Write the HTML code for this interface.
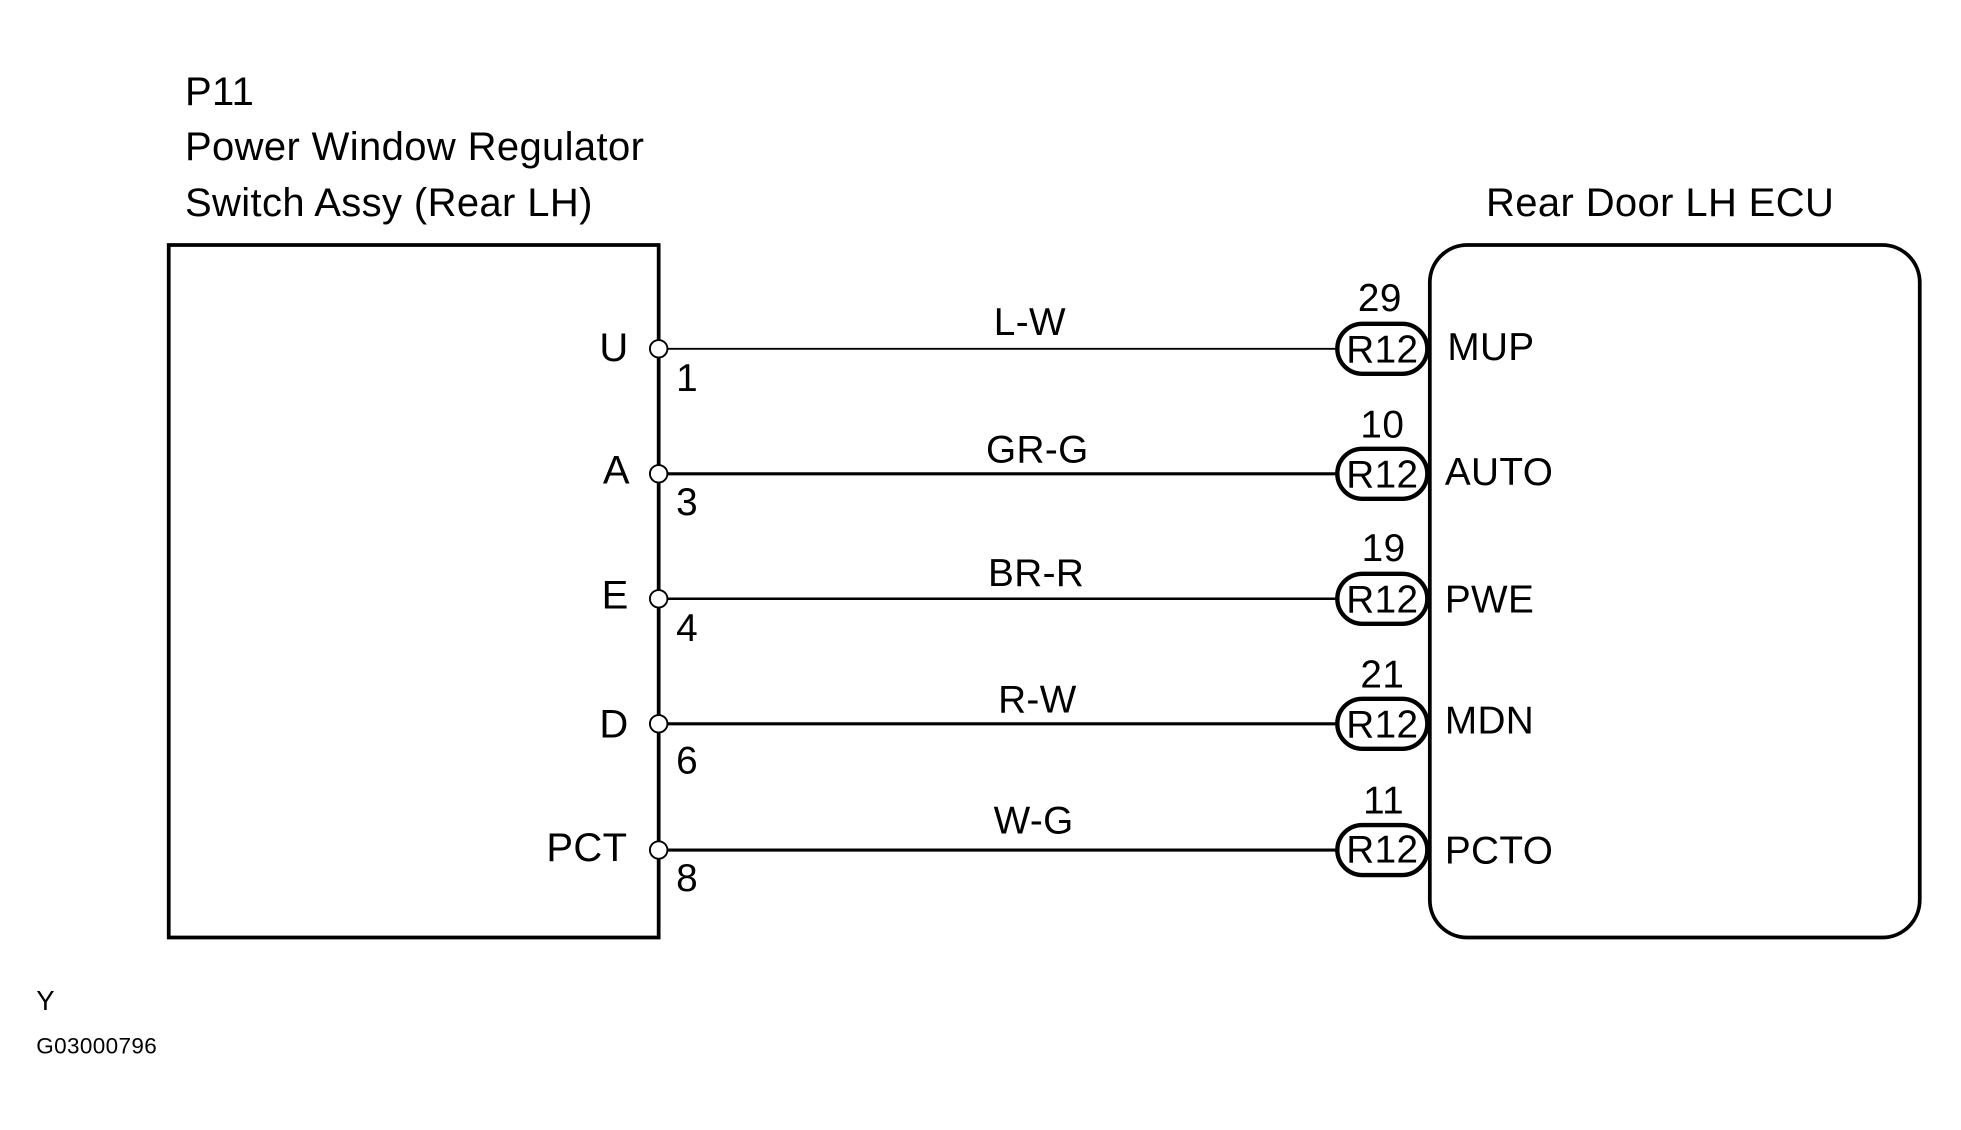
<!DOCTYPE html>
<html><head><meta charset="utf-8"><style>
html,body{margin:0;padding:0;background:#fff;}
svg{display:block;}
text{font-family:"Liberation Sans",Arial,sans-serif;fill:#000;letter-spacing:0.3px;}
</style></head><body>
<svg width="1961" height="1130" viewBox="0 0 1569 904" preserveAspectRatio="none" xmlns="http://www.w3.org/2000/svg">
<g font-size="32">
<text x="148" y="84">P11</text>
<text x="148" y="128">Power Window Regulator</text>
<text x="148" y="173">Switch Assy (Rear LH)</text>
<text x="1189" y="173">Rear Door LH ECU</text>
</g>
<rect x="135" y="196" width="392" height="554" fill="none" stroke="#000" stroke-width="3"/>
<rect x="1144" y="196" width="392" height="554" rx="30" ry="30" fill="none" stroke="#000" stroke-width="3"/>
<g stroke="#000" fill="none">
<line x1="534" y1="279" x2="1070" y2="279" stroke-width="1.5"/>
<line x1="534" y1="379" x2="1070" y2="379" stroke-width="2.5"/>
<line x1="534" y1="479" x2="1070" y2="479" stroke-width="2"/>
<line x1="534" y1="579" x2="1070" y2="579" stroke-width="2.5"/>
<line x1="534" y1="680" x2="1070" y2="680" stroke-width="2.5"/>
</g>
<g stroke="#000" stroke-width="1.5" fill="#fff">
<circle cx="527" cy="279" r="7"/><circle cx="527" cy="379" r="7"/><circle cx="527" cy="479" r="7"/><circle cx="527" cy="579" r="7"/><circle cx="527" cy="680" r="7"/>
</g>
<g stroke="#000" stroke-width="3.5" fill="none">
<rect x="1070" y="259" width="72" height="40" rx="20"/>
<rect x="1070" y="359" width="72" height="40" rx="20"/>
<rect x="1070" y="459" width="72" height="40" rx="20"/>
<rect x="1070" y="559" width="72" height="40" rx="20"/>
<rect x="1070" y="660" width="72" height="40" rx="20"/>
</g>
<g font-size="31" text-anchor="middle">
<text x="1106" y="290">R12</text><text x="1106" y="390">R12</text><text x="1106" y="490">R12</text><text x="1106" y="590">R12</text><text x="1106" y="690">R12</text>
<text x="1104" y="249">29</text><text x="1106" y="350">10</text><text x="1107" y="449">19</text><text x="1106" y="550">21</text><text x="1107" y="651">11</text>
<text x="824" y="268">L-W</text><text x="830" y="370">GR-G</text><text x="829" y="469">BR-R</text><text x="830" y="570">R-W</text><text x="827" y="667">W-G</text>
</g>
<g font-size="32" text-anchor="end">
<text x="503" y="289">U</text><text x="504" y="387">A</text><text x="503" y="487">E</text><text x="503" y="590">D</text><text x="502" y="689">PCT</text>
</g>
<g font-size="31">
<text x="541" y="313">1</text><text x="541" y="412">3</text><text x="541" y="513">4</text><text x="541" y="619">6</text><text x="541" y="713">8</text>
<text x="1158" y="288">MUP</text><text x="1156" y="388">AUTO</text><text x="1156" y="490">PWE</text><text x="1156" y="587">MDN</text><text x="1156" y="691">PCTO</text>
</g>
<text x="29" y="808" font-size="22">Y</text>
<text x="29" y="843" font-size="18">G03000796</text>
</svg>
</body></html>
